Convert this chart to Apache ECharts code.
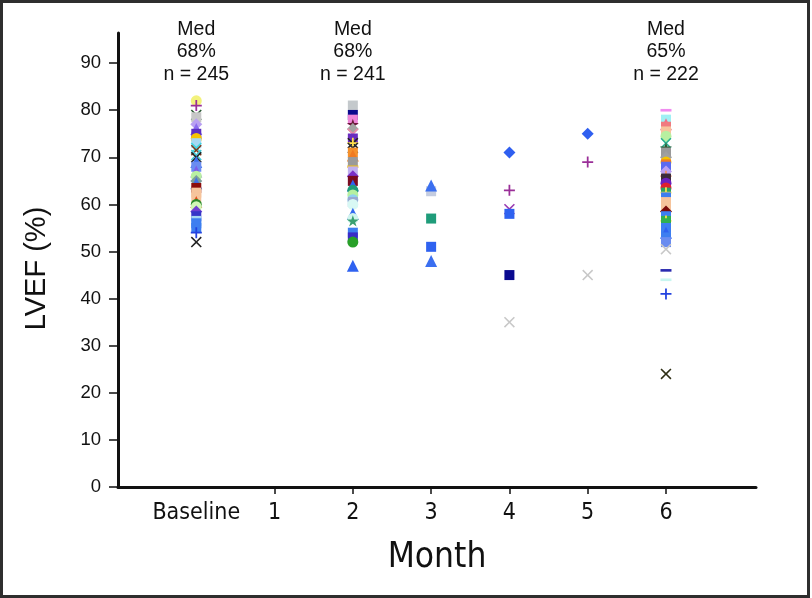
<!DOCTYPE html>
<html>
<head>
<meta charset="utf-8">
<script src="https://cdn.jsdelivr.net/npm/echarts@6/dist/echarts.min.js"></script>
<style>
html,body{margin:0;padding:0;background:#fff;}
#chart{width:812px;height:598px;}
</style>
</head>
<body>
<div id="chart"></div>
<script>
// ---------- data ----------
const timepoints = ['Baseline', '1', '2', '3', '4', '5', '6'];
const xTickMonths = [1, 2, 3, 4, 5, 6];
const yTicks = [0, 10, 20, 30, 40, 50, 60, 70, 80, 90];

const baselineLVEF = [82, 81, 79, 78.5, 77, 76, 75, 74, 73, 72, 71.5, 70.5, 70, 69, 68, 67, 66, 65, 64.5, 63.5, 62.5, 61.5, 60.5, 60, 59.5, 58.5, 57.5, 56.5, 56, 55, 54, 52];
const month2LVEF   = [81, 79, 78, 77, 76, 75, 74, 73, 73, 72, 71, 70.4, 69, 68, 67, 66, 65, 64, 63, 62, 61, 60.5, 60, 58, 57, 56.5, 54, 53, 52, 47];
const month3LVEF   = [62.8, 64, 57, 51, 48];
const month4LVEF   = [71, 63, 59, 58, 45, 35];
const month5LVEF   = [75, 69, 45];
const month6LVEF   = [80, 78, 77, 76.5, 75.5, 74.5, 73, 72, 71, 70, 69, 68.5, 68, 67, 66, 65.5, 64.5, 63.5, 62.5, 62.5, 61.5, 60.5, 59.5, 58.5, 57.5, 56.5, 56.5, 56, 55, 54, 53, 52, 50.5, 46, 44, 41, 24];

const annotatedMonths = [0, 2, 6];
const medianLVEF = ['68%', '68%', '65%'];
const patientCounts = [245, 241, 222];

// ---------- marker styles (shape|colour), one per value ----------
const baselineMarks = ['circle|#f3f27c','plus|#9a2f98','cross|#2f5c38','rect|#c7c7c7','diamond|#b9a0f2','triangle|#8a6af0','rect|#5a2fc2','circle|#f5c400','rect|#a6d8f2','cross|#3fd6e2','cross|#7a3a1c','cross|#40c8d8','cross|#222222','triangle|#3b6ff0','rect|#6a8cf0','triangle|#7d5ce8','circle|#b9f0a2','diamond|#7c9c9c','triangle|#3f72e6','rect|#8b0c0c','rect|#f6c49c','rect|#f6c49c','triangle|#e2521c','circle|#2b8a2b','circle|#d2f6b6','diamond|#7040d0','rect|#3636c8','rect|#a6d8f2','rect|#3d7ef0','rect|#3d7ef0','plus|#2242e0','cross|#222222'];
const month2Marks = ['rect|#c4c9cc','rect|#0a0a8e','rect|#ee86d8','star|#6b1a3a','diamond|#a3a3a3','cross|#f08aa8','rect|#6a2cc0','cross|#222222','plus|#ffe04a','cross|#2a2a2a','rect|#f5902a','triangle|#f07a20','rect|#9a9a9a','dash|#f0c020','rect|#c0b0f0','diamond|#7a30c8','rect|#7a0c20','triangle|#2f62f0','circle|#1f9c7a','circle|#b6f0a0','circle|#8fd0f0','rect|#9aa8d0','circle|#d8f8f4','triangle|#3268f0','circle|#d0f4ee','star|#3aa070','rect|#3d7ef0','rect|#3a2cc8','circle|#28a028','triangle|#2f62f0'];
const month3Marks = ['rect|#c4cce0','triangle|#3b6ff0','rect|#1f9c7a','rect|#2f62f0','triangle|#3b6ff0'];
const month4Marks = ['diamond|#2f5ff0','plus|#9a2f98','cross|#9a3db2','rect|#2f62f0','rect|#0a0a90','cross|#c8c8c8'];
const month5Marks = ['diamond|#2f5ff0','plus|#9a2f98','cross|#c8c8c8'];
const month6Marks = ['dash|#f08cf0','rect|#9ff0f4','triangle|#f0708a','rect|#f07a80','rect|#f7c49c','circle|#b8f0a0','cross|#28b090','star|#2f5c38','rect|#9a9a9a','diamond|#a0a0a0','circle|#f5c400','rect|#f07a20','rect|#5a6af0','diamond|#b9a0f2','plus|#f09060','rect|#3b2b3b','circle|#6a20c0','circle|#e02030','rect|#2aa060','plus|#ffe04a','rect|#3d7ef0','rect|#f6c49c','rect|#f6c49c','diamond|#7a0a0a','rect|#3d7ef0','rect|#30b050','plus|#ffe04a','rect|#30b050','rect|#3d7ef0','triangle|#2f62f0','rect|#3d7ef0','rect|#6a8cf0','cross|#c8c8c8','dash|#2b2bb0','dash|#c8f6f0','plus|#2242e0','cross|#2e2e14'];

const SYMBOLS = {
  circle: 'circle',
  rect: 'rect',
  triangle: 'triangle',
  diamond: 'diamond',
  plus: 'path://M4.2,0H5.8V4.2H10V5.8H5.8V10H4.2V5.8H0V4.2H4.2Z',
  cross: 'path://M1,0L5,4L9,0L10,1L6,5L10,9L9,10L5,6L1,10L0,9L4,5L0,1Z',
  dash: 'path://M0,0H10V2.4H0Z',
  star: 'path://M5,0L6.2,3.6L10,3.6L6.9,5.8L8.1,9.5L5,7.2L1.9,9.5L3.1,5.8L0,3.6L3.8,3.6Z'
};
const SYMBOL_SIZE = { circle: 11, rect: 10, triangle: 12, diamond: 12, plus: 11, cross: 11, dash: 11, star: 12 };

function buildPoints(month, values, marks) {
  return values.map(function (v, i) {
    const parts = marks[i].split('|');
    return {
      value: [month, v],
      symbol: SYMBOLS[parts[0]],
      symbolSize: SYMBOL_SIZE[parts[0]],
      itemStyle: { color: parts[1], opacity: 1 }
    };
  });
}

const columns = [
  [0, baselineLVEF, baselineMarks],
  [2, month2LVEF, month2Marks],
  [3, month3LVEF, month3Marks],
  [4, month4LVEF, month4Marks],
  [5, month5LVEF, month5Marks],
  [6, month6LVEF, month6Marks]
];

const chart = echarts.init(document.getElementById('chart'), null, { renderer: 'canvas' });

const axisFont = '"Liberation Sans", Arial, Helvetica, sans-serif';
const narrowFont = '"Liberation Sans Narrow", "DejaVu Sans Condensed", Arial, sans-serif';

const option = {
  backgroundColor: '#fff',
  animation: false,
  grid: { left: 118, right: 56, top: 33, bottom: 111, containLabel: false },
  xAxis: {
    type: 'value',
    min: -1,
    max: 7.15,
    name: 'Month',
    nameLocation: 'middle',
    nameGap: 53,
    nameTextStyle: { fontFamily: narrowFont, fontSize: 35, color: '#111' },
    splitLine: { show: false },
    axisLine: { show: true, onZero: false, lineStyle: { color: '#111', width: 3 } },
    axisTick: { show: true, customValues: xTickMonths, length: 7, lineStyle: { color: '#111', width: 1.5 } },
    axisLabel: {
      customValues: [0, 1, 2, 3, 4, 5, 6],
      formatter: function (v) { return timepoints[Math.round(v)]; },
      fontFamily: narrowFont, fontSize: 23, color: '#111', margin: 15
    }
  },
  yAxis: {
    type: 'value',
    min: 0,
    max: 96.4,
    splitLine: { show: false },
    axisLine: { show: true, onZero: false, lineStyle: { color: '#111', width: 3 } },
    axisTick: { show: true, customValues: yTicks, length: 9, lineStyle: { color: '#111', width: 1.5 } },
    axisLabel: { customValues: yTicks, fontFamily: axisFont, fontSize: 18.5, color: '#111', margin: 17 }
  },
  series: columns.map(function (c) {
    return {
      type: 'scatter',
      symbolKeepAspect: true,
      itemStyle: { opacity: 1 },
      data: buildPoints(c[0], c[1], c[2])
    };
  }),
  graphic: []
};

chart.setOption(option);

// annotations above selected columns, positioned through the x scale
const g = annotatedMonths.map(function (m, i) {
  const px = chart.convertToPixel({ xAxisIndex: 0 }, m);
  return {
    type: 'text',
    x: px,
    y: 18,
    style: {
      text: 'Med\n' + medianLVEF[i] + '\nn = ' + patientCounts[i],
      align: 'center',
      verticalAlign: 'top',
      fontFamily: axisFont,
      fontSize: 19.5,
      lineHeight: 22.5,
      fill: '#111'
    }
  };
});
// y-axis title
const yMid = chart.convertToPixel({ yAxisIndex: 0 }, 46.4);
g.push({
  type: 'text',
  x: 37,
  y: yMid,
  rotation: Math.PI / 2,
  style: {
    text: 'LVEF (%)',
    align: 'center',
    verticalAlign: 'middle',
    fontFamily: axisFont,
    fontSize: 29,
    fill: '#111'
  }
});
g.push({
  type: 'rect',
  shape: { x: 1.5, y: 1.5, width: 807, height: 595 },
  style: { fill: 'none', stroke: '#2e2e2e', lineWidth: 3 },
  silent: true
});
chart.setOption({ graphic: g });
</script>
</body>
</html>
